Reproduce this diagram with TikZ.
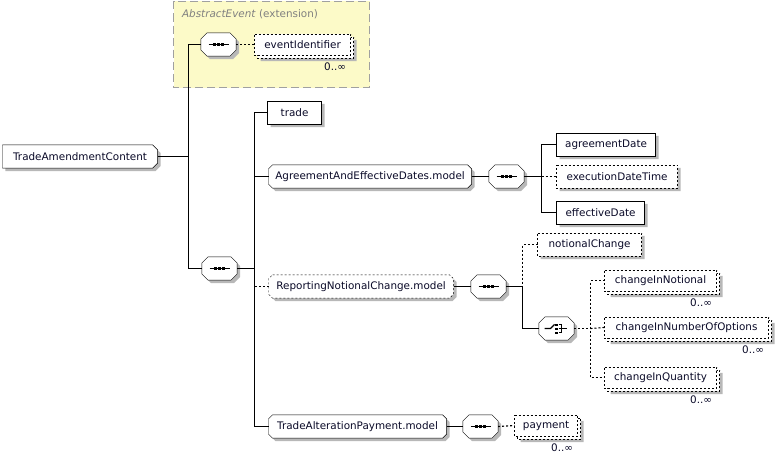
\documentclass[tikz,border=0pt]{standalone}
\usepackage{fontspec}
\setmainfont{DejaVu Sans}
\usetikzlibrary{backgrounds}
\definecolor{txt}{HTML}{0A0A28}
\definecolor{shd}{HTML}{B8B8B8}
\definecolor{ylw}{HTML}{FCFAC8}
\definecolor{ybd}{HTML}{A0A0A0}
\newcommand\fs{\fontsize{10.4}{12}\selectfont}
% outline path: name, left cut, right cut, dx, dy
\newcommand\opath[5]{([xshift=#4,yshift=#5,xshift=#2]#1.north west) -- ([xshift=#4,yshift=#5,xshift=-#3]#1.north east) -- ([xshift=#4,yshift=#5,yshift=-#3]#1.north east) -- ([xshift=#4,yshift=#5,yshift=#3]#1.south east) -- ([xshift=#4,yshift=#5,xshift=-#3]#1.south east) -- ([xshift=#4,yshift=#5,xshift=#2]#1.south west) -- ([xshift=#4,yshift=#5,yshift=#2]#1.south west) -- ([xshift=#4,yshift=#5,yshift=-#2]#1.north west) -- cycle}
\newcommand\drawbox[4]{\fill[shd] \opath{#1}{#2}{#3}{3pt}{-3pt}; \draw[fill=white,#4] \opath{#1}{#2}{#3}{0pt}{0pt};}
\newcommand\drawmulti[1]{\fill[shd] \opath{#1}{0pt}{0pt}{6pt}{-6pt}; \draw[fill=white,opt] \opath{#1}{0pt}{0pt}{3pt}{-3pt}; \draw[fill=white,opt] \opath{#1}{0pt}{0pt}{0pt}{0pt};}
\newcommand\seqsym[1]{%
  \begin{scope}[shift={(#1.center)}]
    \draw (-10,0) -- (10,0);
    \foreach \d in {-4,0,4} \fill (\d-1.5,-1.5) rectangle (\d+1.5,1.5);
  \end{scope}}
\tikzset{
  base/.style={inner sep=0pt, minimum height=22pt, font=\fs, text=txt, anchor=west},
  multi/.style={base, minimum height=20pt},
  opt/.style={dash pattern=on 2pt off 2pt},
  comp/.style={inner sep=0pt, minimum width=34pt, minimum height=22pt},
  card/.style={font=\fs, text=txt, inner sep=0pt, anchor=north east},
}
\begin{document}
\begin{tikzpicture}[x=1pt,y=-1pt,line width=1.15pt]
\useasboundingbox (-0.5,-0.5) rectangle (776.5,454.5);
% extension box
\node[minimum width=195pt, minimum height=85pt, inner sep=0pt, anchor=north west] (ext) at (173,1) {};
\node[font=\fs, text=gray, anchor=west, inner sep=0pt] (exttitle) at (181,14) {\textit{AbstractEvent} (extension)};

% nodes
\node[base, minimum width=154pt] (tac) at (2,156) {TradeAmendmentContent};
\node[comp] (seqA) at (218,44) {};
\node[multi, minimum width=95pt] (evid) at (254,44) {eventIdentifier};
\node[card] (cA) at ([xshift=-4pt,yshift=-7pt]evid.south east) {0..∞};
\node[comp] (seqB) at (219,268) {};
\node[base, minimum width=53pt] (trade) at (267,112) {trade};
\node[base, minimum width=202pt] (aed) at (268,176) {AgreementAndEffectiveDates.model};
\node[comp] (seqC) at (506,176) {};
\node[base, minimum width=98pt] (agr) at (556,144) {agreementDate};
\node[base, minimum width=120pt] (exe) at (556,176) {executionDateTime};
\node[base, minimum width=87pt] (eff) at (556,212) {effectiveDate};
\node[base, minimum width=184pt] (rnc) at (268,286) {ReportingNotionalChange.model};
\node[comp] (seqD) at (488,286) {};
\node[base, minimum width=103pt] (notc) at (537,244) {notionalChange};
\node[comp] (choice) at (556,328) {};
\node[multi, minimum width=111pt] (cin) at (604,280) {changeInNotional};
\node[card] (cB) at ([xshift=-4pt,yshift=-7pt]cin.south east) {0..∞};
\node[multi, minimum width=163pt] (cino) at (604,327) {changeInNumberOfOptions};
\node[card] (cC) at ([xshift=-4pt,yshift=-7pt]cino.south east) {0..∞};
\node[multi, minimum width=111pt] (ciq) at (604,377) {changeInQuantity};
\node[card] (cD) at ([xshift=-4pt,yshift=-7pt]ciq.south east) {0..∞};
\node[base, minimum width=177pt] (tap) at (268,426) {TradeAlterationPayment.model};
\node[comp] (seqE) at (480,426) {};
\node[multi, minimum width=62pt] (pay) at (514,425) {payment};
\node[card] (cE) at ([xshift=-4pt,yshift=-7pt]pay.south east) {0..∞};

% shapes behind the texts
\begin{scope}[on background layer]
  \draw[draw=ybd, fill=ylw, dash pattern=on 8pt off 4pt, line width=1pt] (ext.north west) rectangle (ext.south east);
  \drawbox{tac}{0pt}{5pt}{}
  \drawbox{seqA}{6pt}{6pt}{}
  \drawbox{seqB}{6pt}{6pt}{}
  \drawbox{seqC}{6pt}{6pt}{}
  \drawbox{seqD}{6pt}{6pt}{}
  \drawbox{seqE}{6pt}{6pt}{}
  \drawbox{choice}{6pt}{6pt}{}
  \drawbox{trade}{0pt}{0pt}{}
  \drawbox{aed}{4pt}{4pt}{}
  \drawbox{agr}{0pt}{0pt}{}
  \drawbox{exe}{0pt}{0pt}{opt}
  \drawbox{eff}{0pt}{0pt}{}
  \drawbox{rnc}{4pt}{4pt}{opt}
  \drawbox{notc}{0pt}{0pt}{opt}
  \drawbox{tap}{4pt}{4pt}{}
  \drawmulti{evid}
  \drawmulti{cin}
  \drawmulti{cino}
  \drawmulti{ciq}
  \drawmulti{pay}
\end{scope}

% compositor symbols
\seqsym{seqA}
\seqsym{seqB}
\seqsym{seqC}
\seqsym{seqD}
\seqsym{seqE}
\begin{scope}[shift={(choice.center)}]
  \draw (-12,0) -- (-6,0) -- (-2,-4);
  \foreach \d in {-4,0,4} \fill (-1.5,\d-1) rectangle (1,\d+1);
  \draw (2,-4) -- (5,-4) -- (5,4) -- (2,4);
  \draw (2,0) -- (10,0);
\end{scope}

% junction coordinates
\coordinate (j1) at (188,156);
\coordinate (j2) at (254,268);
\coordinate (j3) at (541,176);
\coordinate (j4) at (522,286);
\coordinate (j5) at (590,328);

% connectors
\draw (tac.east) -- (j1);
\draw (seqA.west) -| (j1) |- (seqB.west);
\draw[opt] (seqA.east) -- (evid.west);
\draw (seqB.east) -- (j2);
\draw (trade.west) -| (j2) |- (tap.west);
\draw (aed.west) -- (aed.west -| j2);
\draw[opt] (rnc.west) -- (rnc.west -| j2);
\draw (aed.east) -- (seqC.west);
\draw (seqC.east) -- (j3);
\draw (agr.west) -| (j3) |- (eff.west);
\draw[opt] (j3) -- (exe.west);
\draw (rnc.east) -- (seqD.west);
\draw (seqD.east) -- (j4);
\draw[opt] (notc.west) -| (j4);
\draw (j4) |- (choice.west);
\draw[opt] (choice.east) -- (j5);
\draw[opt] (cin.west) -| (j5) |- (ciq.west);
\draw[opt] (j5) -- (cino.west);
\draw (tap.east) -- (seqE.west);
\draw[opt] (seqE.east) -- (pay.west);
\end{tikzpicture}
\end{document}
